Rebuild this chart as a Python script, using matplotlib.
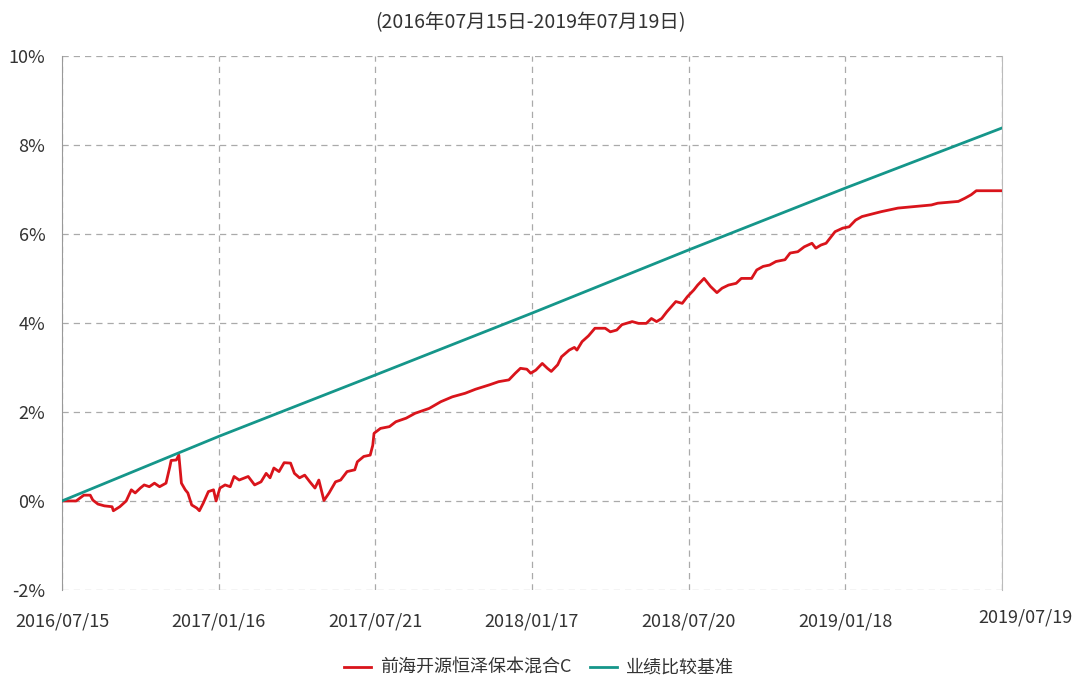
import matplotlib
matplotlib.use("Agg")
import matplotlib.pyplot as plt
from matplotlib.transforms import ScaledTranslation
from matplotlib.ticker import FuncFormatter

plt.rcParams["font.family"] = ["Liberation Sans Narrow", "Noto Sans CJK SC", "DejaVu Sans"]

# x axis: trading-day index, ticks every 122 days
tick_days = [0, 122, 244, 366, 488, 610, 732]
tick_labels = ["2016/07/15", "2017/01/16", "2017/07/21", "2018/01/17",
               "2018/07/20", "2019/01/18", "2019/07/19"]

# fund cumulative return (%)
fund_days = [0, 11, 17, 22, 24, 28, 33, 39, 40, 45, 50, 54, 57, 61, 64, 68, 72, 76, 81,
             84, 85, 89, 91, 93, 96, 98, 101, 105, 107, 110, 114, 118, 120, 123, 127,
             131, 134, 138, 145, 150, 155, 159, 162, 165, 169, 173, 178, 181, 185, 189,
             193, 197, 200, 204, 208, 213, 217, 222, 228, 230, 235, 240, 242, 243, 248,
             255, 260, 268, 275, 286, 295, 304, 314, 322, 333, 340, 348, 353, 357, 362,
             365, 369, 374, 378, 381, 386, 389, 395, 399, 401, 405, 410, 415, 423, 427,
             432, 436, 444, 449, 455, 459, 463, 467, 471, 478, 483, 487, 492, 495, 500,
             505, 510, 514, 519, 525, 529, 537, 541, 546, 551, 556, 563, 567, 573, 578,
             584, 587, 591, 595, 602, 608, 613, 618, 623, 634, 638, 651, 677, 682, 698,
             703, 708, 712, 732]
fund_ret = [0.00, 0.00, 0.13, 0.13, 0.02, -0.07, -0.11, -0.13, -0.22, -0.13, 0.00, 0.25,
            0.18, 0.29, 0.36, 0.32, 0.40, 0.32, 0.40, 0.77, 0.91, 0.92, 1.03, 0.40, 0.25,
            0.18, -0.09, -0.16, -0.22, -0.05, 0.21, 0.25, 0.00, 0.29, 0.36, 0.32, 0.55,
            0.47, 0.55, 0.36, 0.43, 0.62, 0.52, 0.74, 0.66, 0.86, 0.85, 0.62, 0.52, 0.58,
            0.43, 0.29, 0.47, 0.01, 0.18, 0.43, 0.47, 0.66, 0.70, 0.88, 1.00, 1.03, 1.25,
            1.52, 1.63, 1.67, 1.78, 1.86, 1.97, 2.08, 2.23, 2.34, 2.42, 2.51, 2.61, 2.68,
            2.72, 2.87, 2.98, 2.96, 2.87, 2.94, 3.09, 2.98, 2.91, 3.06, 3.24, 3.39, 3.45,
            3.39, 3.58, 3.71, 3.88, 3.88, 3.80, 3.84, 3.96, 4.03, 3.99, 3.99, 4.10, 4.03,
            4.10, 4.25, 4.48, 4.44, 4.59, 4.74, 4.85, 5.00, 4.82, 4.68, 4.78, 4.85, 4.89,
            5.00, 5.00, 5.19, 5.27, 5.30, 5.38, 5.42, 5.57, 5.60, 5.71, 5.79, 5.68, 5.75,
            5.79, 6.05, 6.13, 6.16, 6.31, 6.39, 6.47, 6.50, 6.58, 6.65, 6.69, 6.73, 6.80,
            6.88, 6.97, 6.97]

# benchmark cumulative return (%)
bench_days = [0, 122, 244, 366, 488, 610, 732]
bench_ret = [0.00, 1.45, 2.83, 4.22, 5.64, 7.03, 8.38]

fund_name = "前海开源恒泽保本混合C"
bench_name = "业绩比较基准"
title = "(2016年07月15日-2019年07月19日)"

fig = plt.figure(figsize=(10.78, 6.83), dpi=100)
ax = fig.add_axes([0.0575, 0.1362, 0.872, 0.782])

ax.plot(fund_days, fund_ret, color="#d9141b", lw=2.0, label=fund_name, zorder=3)
ax.plot(bench_days, bench_ret, color="#15968a", lw=2.0, label=bench_name, zorder=3)

ax.set_xlim(0, 732)
ax.set_ylim(-2, 10)
ax.set_yticks([-2, 0, 2, 4, 6, 8, 10])
ax.yaxis.set_major_formatter(FuncFormatter(lambda v, p: f"{v:.0f}%"))
ax.set_xticks(tick_days)
ax.set_xticklabels(tick_labels)

ax.grid(True, linestyle=(0, (5, 4)), color="#aaaaaa", lw=0.9)
ax.tick_params(axis="both", length=0, labelsize=13, colors="#333333")
ax.tick_params(axis="y", pad=12)
ax.tick_params(axis="x", pad=16)

for side in ["top", "bottom"]:
    ax.spines[side].set_visible(False)
ax.spines["left"].set_color("#999999")
ax.spines["right"].set_color("#bbbbbb")

# last date label sits a bit right and higher
last = ax.get_xticklabels()[-1]
last.set_transform(last.get_transform() + ScaledTranslation(0.23, 0.04, fig.dpi_scale_trans))

fig.text(0.492, 0.967, title, ha="center", va="center", fontsize=14, color="#333333")

fig.legend(loc="center", bbox_to_anchor=(0.5, 0.022), ncol=2, frameon=False,
           fontsize=13, handlelength=1.5, columnspacing=1.0, handletextpad=0.5,
           labelcolor="#333333")

fig.savefig("out.png", dpi=100)
